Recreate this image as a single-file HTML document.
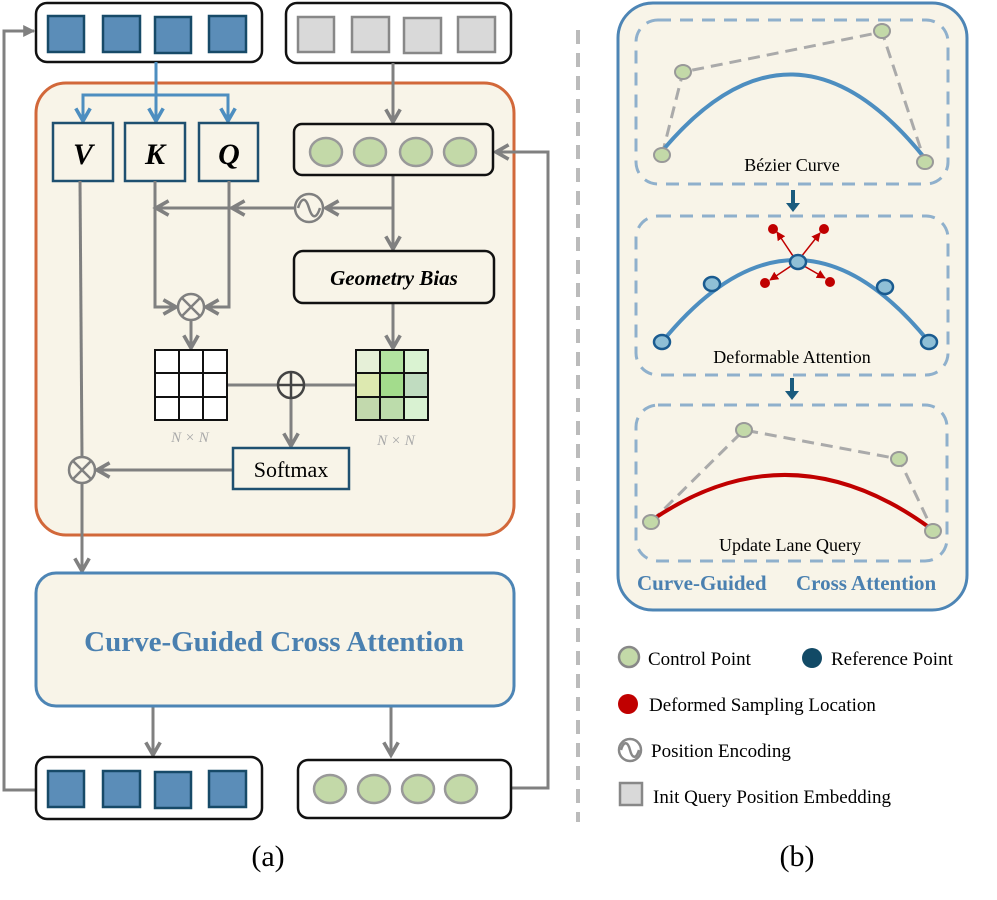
<!DOCTYPE html>
<html><head><meta charset="utf-8"><style>
html,body{margin:0;padding:0;background:#fff;width:997px;height:900px;overflow:hidden}
text{font-family:"Liberation Serif",serif}
</style></head><body>
<svg width="997" height="900" viewBox="0 0 997 900" xmlns="http://www.w3.org/2000/svg">
<defs>
<marker id="ag" viewBox="0 0 10 10" refX="8" refY="5" markerWidth="6" markerHeight="6" orient="auto"><path d="M1,1 L8,5 L1,9" fill="none" stroke="#808080" stroke-width="2"/></marker>
<marker id="agf" viewBox="0 0 10 10" refX="9" refY="5" markerWidth="4" markerHeight="4" orient="auto"><path d="M0,0 L10,5 L0,10 z" fill="#808080"/></marker>
<marker id="ab" viewBox="0 0 10 10" refX="8" refY="5" markerWidth="6" markerHeight="6" orient="auto"><path d="M1,1 L8,5 L1,9" fill="none" stroke="#4d8ec0" stroke-width="2"/></marker>
<marker id="ar" viewBox="0 0 10 10" refX="9" refY="5" markerWidth="6" markerHeight="6" orient="auto"><path d="M0,0 L10,5 L0,10 z" fill="#c00000"/></marker>
</defs>
<!-- left feedback line -->
<path d="M36,790 L4,790 L4,31 L34,31" fill="none" stroke="#808080" stroke-width="3" marker-end="url(#agf)"/>
<!-- top boxes -->
<rect x="36" y="3" width="226" height="59" rx="11" fill="#fff" stroke="#111" stroke-width="2.5"/>
<g fill="#5b8db8" stroke="#174a68" stroke-width="2.5">
<rect x="48" y="16" width="36" height="36"/><rect x="103" y="16" width="37" height="36"/><rect x="155" y="17" width="36" height="36"/><rect x="209" y="16" width="37" height="36"/></g>
<rect x="286" y="3" width="225" height="60" rx="11" fill="#fff" stroke="#111" stroke-width="2.5"/>
<g fill="#d9d9d9" stroke="#888" stroke-width="2.5">
<rect x="298" y="17" width="36" height="35"/><rect x="352" y="17" width="37" height="35"/><rect x="404" y="18" width="37" height="35"/><rect x="458" y="17" width="37" height="35"/></g>
<!-- orange container -->
<rect x="36" y="83" width="478" height="452" rx="30" fill="#f8f4e8" stroke="#d2683a" stroke-width="3"/>
<!-- right feedback -->
<path d="M511,788 L548,788 L548,152 L496,152" fill="none" stroke="#808080" stroke-width="3" marker-end="url(#ag)"/>
<!-- blue arrows -->
<path d="M156,62 L156,121" stroke="#4d8ec0" stroke-width="3" fill="none" marker-end="url(#ab)"/>
<path d="M83,121 L83,95 L228,95 L228,121" stroke="#4d8ec0" stroke-width="3" fill="none"/>
<path d="M83,105 L83,121" stroke="#4d8ec0" stroke-width="3" marker-end="url(#ab)"/>
<path d="M228,105 L228,121" stroke="#4d8ec0" stroke-width="3" marker-end="url(#ab)"/>
<!-- V K Q -->
<g fill="#f8f4e8" stroke="#1f5070" stroke-width="2.5">
<rect x="53" y="123" width="60" height="58"/><rect x="125" y="123" width="60" height="58"/><rect x="199" y="123" width="59" height="58"/></g>
<g font-weight="bold" font-style="italic" font-size="30" text-anchor="middle">
<text x="83" y="164">V</text><text x="155" y="164">K</text><text x="229" y="164">Q</text></g>
<!-- gray arrows -->
<g stroke="#808080" stroke-width="3" fill="none">
<path d="M393,63 L393,122" marker-end="url(#ag)"/>
<path d="M393,175 L393,249" marker-end="url(#ag)"/>
<path d="M393,208 L326,208" marker-end="url(#ag)"/>
<path d="M295,208 L156,208" marker-end="url(#ag)"/>
<path d="M240,208 L232,208" marker-end="url(#ag)"/>
<path d="M155,181 L155,307 L176,307" marker-end="url(#ag)"/>
<path d="M229,181 L229,307 L206,307" marker-end="url(#ag)"/>
<path d="M191,320 L191,348" marker-end="url(#ag)"/>
<path d="M393,303 L393,348" marker-end="url(#ag)"/>
<path d="M227,385 L278,385 M304,385 L356,385"/>
<path d="M291,398 L291,446" marker-end="url(#ag)"/>
<path d="M233,470 L97,470" marker-end="url(#ag)"/>
<path d="M80,181 L82,457"/>
<path d="M82,483 L82,571" marker-end="url(#ag)"/>
<path d="M153,706 L153,755" marker-end="url(#ag)"/>
<path d="M391,706 L391,755" marker-end="url(#ag)"/>
</g>
<!-- sine -->
<circle cx="309" cy="208" r="14" fill="#f8f4e8" stroke="#808080" stroke-width="2.5"/>
<path d="M298,208 C302,196 306,198 309,208 C312,218 316,220 320,208" fill="none" stroke="#808080" stroke-width="2.5"/>
<!-- otimes -->
<g stroke="#808080" stroke-width="2.5" fill="#f8f4e8">
<circle cx="191" cy="307" r="13"/><path d="M182,298 L200,316 M200,298 L182,316"/>
<circle cx="82" cy="470" r="13"/><path d="M73,461 L91,479 M91,461 L73,479"/>
</g>
<circle cx="291" cy="385" r="13" fill="#f8f4e8" stroke="#444" stroke-width="2.5"/>
<path d="M278,385 L304,385 M291,372 L291,398" stroke="#444" stroke-width="2.5"/>
<!-- green box -->
<rect x="294" y="124" width="199" height="51" rx="8" fill="#f8f4e8" stroke="#111" stroke-width="2.5"/>
<g fill="#c3d9a8" stroke="#999" stroke-width="2.5">
<ellipse cx="326" cy="152" rx="16" ry="14"/><ellipse cx="370" cy="152" rx="16" ry="14"/><ellipse cx="416" cy="152" rx="16" ry="14"/><ellipse cx="460" cy="152" rx="16" ry="14"/></g>
<!-- geometry bias -->
<rect x="294" y="251" width="200" height="52" rx="9" fill="#f8f4e8" stroke="#111" stroke-width="2.5"/>
<text x="394" y="285" font-size="21" font-weight="bold" font-style="italic" text-anchor="middle">Geometry Bias</text>
<!-- grids -->
<g stroke="#111" stroke-width="2" fill="#fff">
<rect x="155" y="350" width="72" height="70"/>
<path d="M179,350 L179,420 M203,350 L203,420 M155,373 L227,373 M155,397 L227,397" fill="none"/>
</g>
<g stroke="#111" stroke-width="2">
<rect x="356" y="350" width="24" height="23" fill="#e6f0d8"/><rect x="380" y="350" width="24" height="23" fill="#b2e3a0"/><rect x="404" y="350" width="24" height="23" fill="#daf3d2"/>
<rect x="356" y="373" width="24" height="24" fill="#dde9b0"/><rect x="380" y="373" width="24" height="24" fill="#a3dc8c"/><rect x="404" y="373" width="24" height="24" fill="#c0dcc0"/>
<rect x="356" y="397" width="24" height="23" fill="#c2d9ad"/><rect x="380" y="397" width="24" height="23" fill="#bcdcab"/><rect x="404" y="397" width="24" height="23" fill="#d9f2d2"/>
</g>
<g font-size="15" font-style="italic" fill="#aaa" text-anchor="middle"><text x="190" y="442">N × N</text><text x="396" y="445">N × N</text></g>
<!-- softmax -->
<rect x="233" y="448" width="116" height="41" fill="#f8f4e8" stroke="#1f5070" stroke-width="2.5"/>
<text x="291" y="477" font-size="22" text-anchor="middle">Softmax</text>
<!-- CGCA -->
<rect x="36" y="573" width="478" height="133" rx="20" fill="#f8f4e8" stroke="#4d85b5" stroke-width="3"/>
<text x="274" y="651" font-size="29" font-weight="bold" fill="#4a80b0" text-anchor="middle">Curve-Guided Cross Attention</text>
<!-- bottom boxes -->
<rect x="36" y="757" width="226" height="62" rx="11" fill="#fff" stroke="#111" stroke-width="2.5"/>
<g fill="#5b8db8" stroke="#174a68" stroke-width="2.5">
<rect x="48" y="771" width="36" height="36"/><rect x="103" y="771" width="37" height="36"/><rect x="155" y="772" width="36" height="36"/><rect x="209" y="771" width="37" height="36"/></g>
<rect x="298" y="760" width="213" height="58" rx="10" fill="#fff" stroke="#111" stroke-width="2.5"/>
<g fill="#c3d9a8" stroke="#999" stroke-width="2.5">
<ellipse cx="330" cy="789" rx="16" ry="14"/><ellipse cx="374" cy="789" rx="16" ry="14"/><ellipse cx="418" cy="789" rx="16" ry="14"/><ellipse cx="461" cy="789" rx="16" ry="14"/></g>
<text x="268" y="866" font-size="30" text-anchor="middle">(a)</text>
<!-- divider -->
<line x1="578" y1="30" x2="578" y2="822" stroke="#bbb" stroke-width="4" stroke-dasharray="14,9"/>
<!-- right panel -->
<rect x="618" y="3" width="349" height="607" rx="35" fill="#f8f4e8" stroke="#4d85b5" stroke-width="3"/>
<g fill="none" stroke="#8fb0cc" stroke-width="3" stroke-dasharray="13,9">
<rect x="636" y="20" width="312" height="164" rx="22"/>
<rect x="636" y="216" width="312" height="159" rx="22"/>
<rect x="636" y="405" width="311" height="156" rx="22"/>
</g>
<!-- box1 -->
<path d="M662,155 L683,72 L882,32 L925,162" fill="none" stroke="#aaa" stroke-width="3" stroke-dasharray="12,7"/>
<path d="M663,150 Q793,-4 923,156" fill="none" stroke="#4d8ec0" stroke-width="4"/>
<g fill="#c3d9a8" stroke="#999" stroke-width="2">
<ellipse cx="683" cy="72" rx="8" ry="7"/><ellipse cx="882" cy="31" rx="8" ry="7"/><ellipse cx="662" cy="155" rx="8" ry="7"/><ellipse cx="925" cy="162" rx="8" ry="7"/></g>
<text x="792" y="171" font-size="18" text-anchor="middle">Bézier Curve</text>
<path d="M793,190 L793,204" stroke="#1a5b7e" stroke-width="4"/><path d="M786,203 L800,203 L793,212 z" fill="#1a5b7e"/>
<!-- box2 -->
<path d="M662,342 Q796,178 929,342" fill="none" stroke="#4d8ec0" stroke-width="4"/>
<g stroke="#c00000" stroke-width="1.5" fill="none">
<path d="M797,262 L777,232" marker-end="url(#ar)"/><path d="M797,262 L820,233" marker-end="url(#ar)"/>
<path d="M797,262 L770,280" marker-end="url(#ar)"/><path d="M797,262 L825,278" marker-end="url(#ar)"/></g>
<g fill="#c00000"><circle cx="773" cy="229" r="5"/><circle cx="824" cy="229" r="5"/><circle cx="765" cy="283" r="5"/><circle cx="830" cy="282" r="5"/></g>
<g fill="#8fbfd6" stroke="#1a5b90" stroke-width="2.5">
<ellipse cx="662" cy="342" rx="8" ry="7"/><ellipse cx="712" cy="284" rx="8" ry="7"/><ellipse cx="798" cy="262" rx="8" ry="7"/><ellipse cx="885" cy="287" rx="8" ry="7"/><ellipse cx="929" cy="342" rx="8" ry="7"/></g>
<text x="792" y="363" font-size="18" text-anchor="middle">Deformable Attention</text>
<path d="M792,378 L792,392" stroke="#1a5b7e" stroke-width="4"/><path d="M785,391 L799,391 L792,400 z" fill="#1a5b7e"/>
<!-- box3 -->
<path d="M651,522 L744,430 L899,459 L933,531" fill="none" stroke="#aaa" stroke-width="3" stroke-dasharray="12,7"/>
<path d="M652,520 Q790,426 930,528" fill="none" stroke="#c00000" stroke-width="4"/>
<g fill="#c3d9a8" stroke="#999" stroke-width="2">
<ellipse cx="744" cy="430" rx="8" ry="7"/><ellipse cx="899" cy="459" rx="8" ry="7"/><ellipse cx="651" cy="522" rx="8" ry="7"/><ellipse cx="933" cy="531" rx="8" ry="7"/></g>
<text x="790" y="551" font-size="18" text-anchor="middle">Update Lane Query</text>
<text x="637" y="590" font-size="21" font-weight="bold" fill="#4a80b0">Curve-Guided</text>
<text x="796" y="590" font-size="21" font-weight="bold" fill="#4a80b0">Cross Attention</text>
<!-- legend -->
<circle cx="629" cy="657" r="10" fill="#c3d9a8" stroke="#888" stroke-width="2.5"/>
<text x="648" y="665" font-size="19">Control Point</text>
<circle cx="812" cy="658" r="10" fill="#124a66"/>
<text x="831" y="665" font-size="19">Reference Point</text>
<circle cx="628" cy="704" r="10" fill="#c00000"/>
<text x="649" y="711" font-size="19">Deformed Sampling Location</text>
<circle cx="630" cy="750" r="11" fill="none" stroke="#888" stroke-width="2.5"/>
<path d="M621,750 C624,740 628,742 630,750 C632,758 636,760 639,750" fill="none" stroke="#888" stroke-width="2.5"/>
<text x="651" y="757" font-size="19">Position Encoding</text>
<rect x="620" y="783" width="22" height="22" fill="#d9d9d9" stroke="#888" stroke-width="2.5"/>
<text x="653" y="803" font-size="19">Init Query Position Embedding</text>
<text x="797" y="866" font-size="30" text-anchor="middle">(b)</text>
</svg>
</body></html>
